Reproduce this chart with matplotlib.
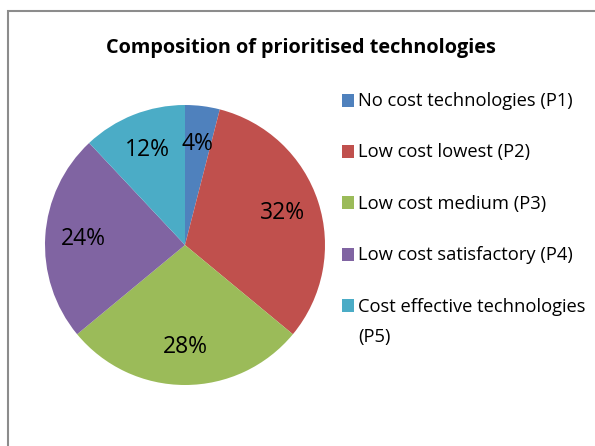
import matplotlib
matplotlib.use("Agg")
import matplotlib.pyplot as plt
from matplotlib.patches import Rectangle

plt.rcParams['font.family'] = ['Open Sans', 'DejaVu Sans']

# Share of each technology group
labels = ["No cost technologies (P1)", "Low cost lowest (P2)", "Low cost medium (P3)",
          "Low cost satisfactory (P4)", "Cost effective technologies\n(P5)"]
shares = [4, 32, 28, 24, 12]
colors = ["#4F81BD", "#C0504D", "#9BBB59", "#8064A2", "#4BACC6"]

fig = plt.figure(figsize=(5.95, 4.46), dpi=100)
W, H = 595, 446

# outer chart frame
fig.patches.append(Rectangle((8 / W, -0.1), 1.0, (H - 11) / H + 0.1, transform=fig.transFigure,
                             fill=False, edgecolor="#8c8c8c", linewidth=1.5))

fig.text(301 / W, 1 - 48 / H, "Composition of prioritised technologies", ha="center", va="center",
         fontsize=14.3, fontweight="bold")

# pie: centre (185, 245), radius 140 px
r = 140
ax = fig.add_axes([(185 - r) / W, 1 - (245 + r) / H, 2 * r / W, 2 * r / H])
ax.pie(shares, colors=colors, startangle=90, counterclock=False,
       autopct=lambda p: f"{p:.0f}%", pctdistance=0.73, radius=1.0,
       textprops={"fontsize": 16.5, "color": "black"},
       wedgeprops={"linewidth": 0})
ax.set_xlim(-1, 1)
ax.set_ylim(-1, 1)
ax.set_aspect("equal")

# legend entries
ys = [100, 151.4, 202.8, 254.2, 305.6]
for lab, col, y in zip(labels, colors, ys):
    fig.patches.append(Rectangle((342 / W, 1 - (y + 6.5) / H), 12 / W, 13 / H,
                                 transform=fig.transFigure, facecolor=col, edgecolor="none"))
    fig.text(358 / W, 1 - (y + 6) / H, lab.split("\n")[0], ha="left", va="baseline", fontsize=13.2)
    if "\n" in lab:
        fig.text(358 / W, 1 - (y + 36) / H, lab.split("\n")[1], ha="left", va="baseline",
                 fontsize=13.2)

fig.savefig("out.png", dpi=100)
